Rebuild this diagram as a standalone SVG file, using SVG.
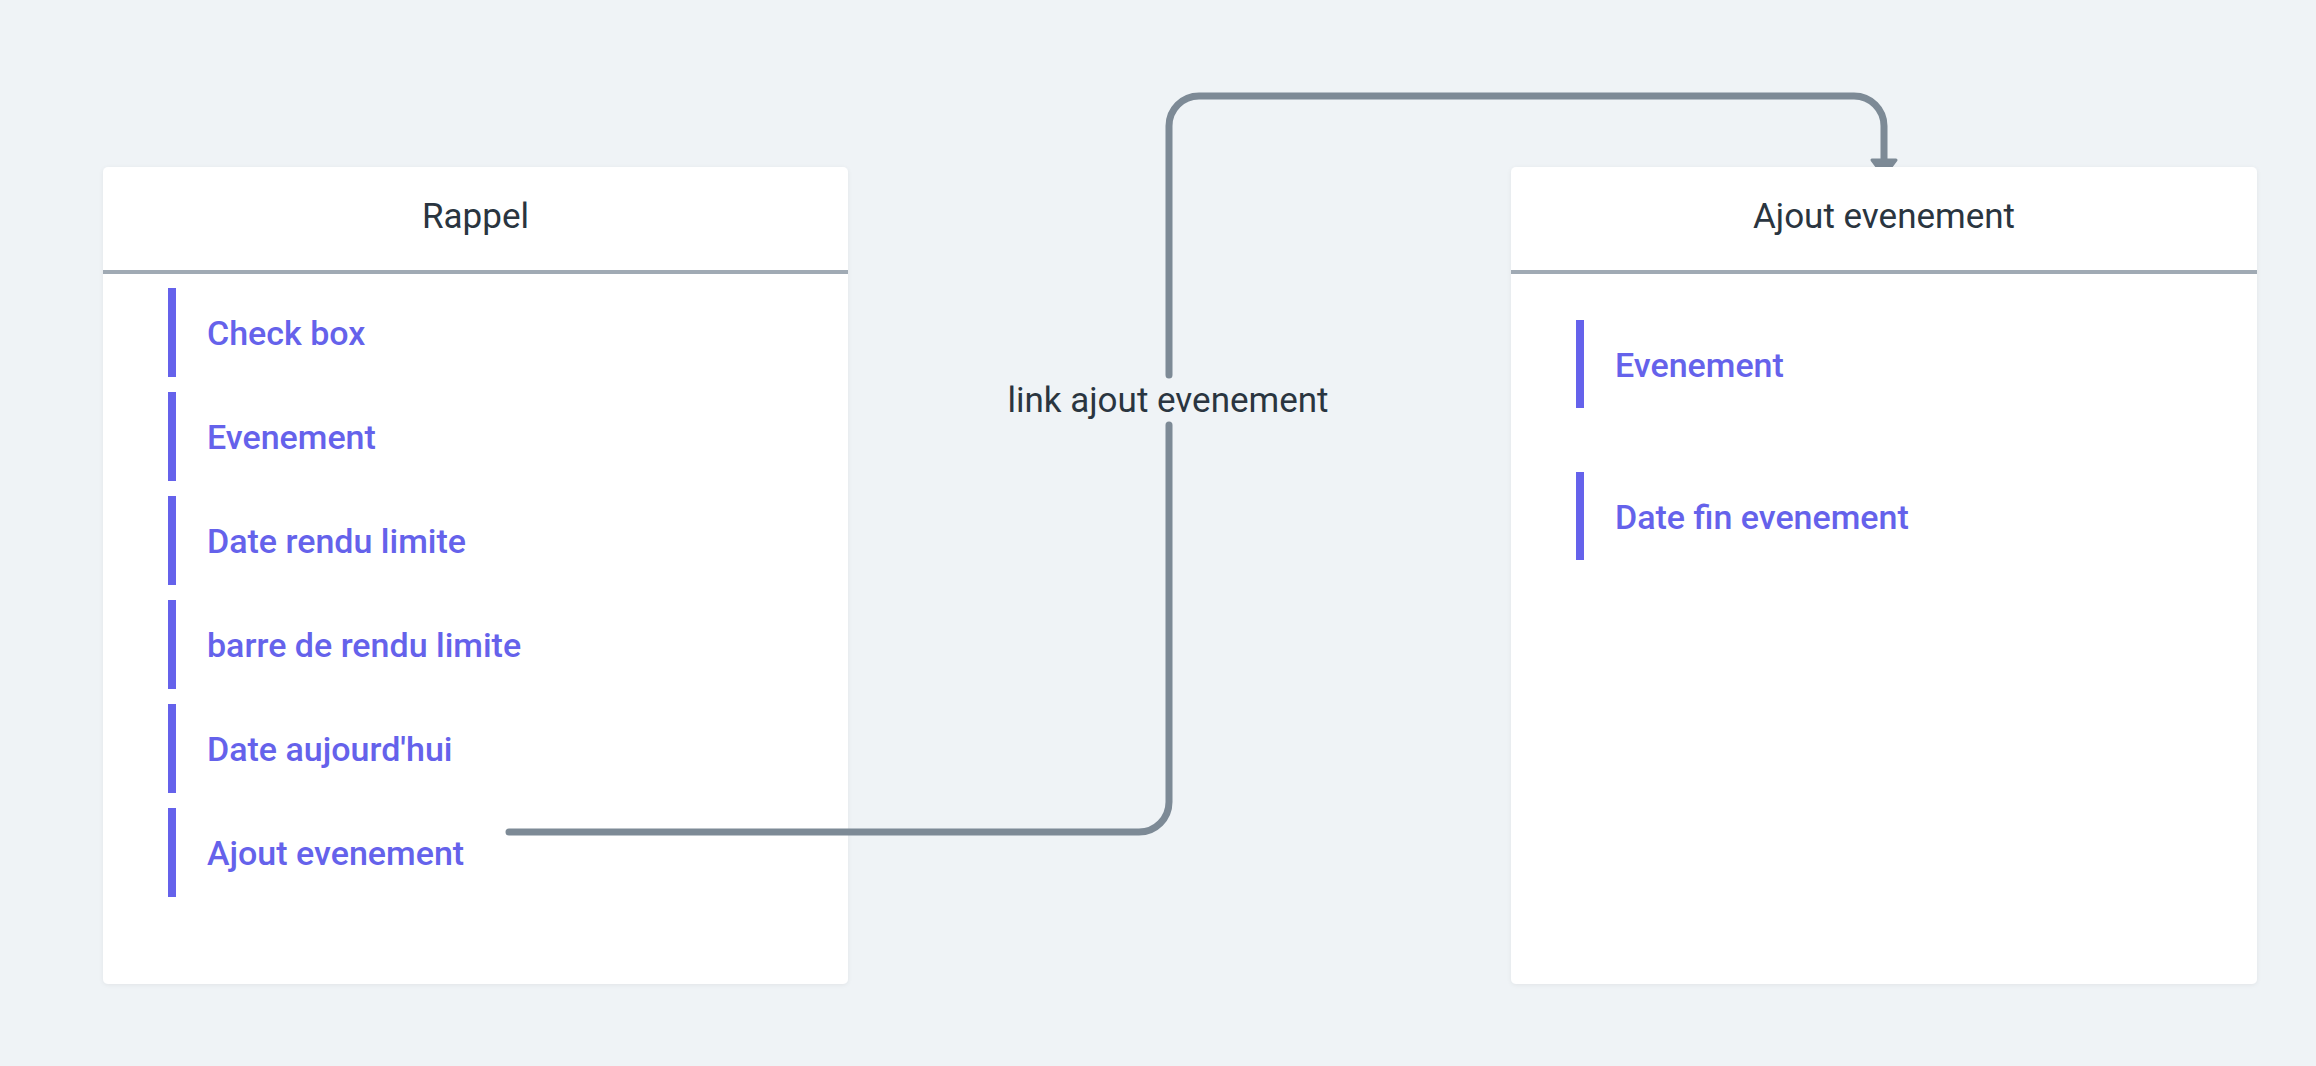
<svg xmlns="http://www.w3.org/2000/svg" width="2316" height="1066" viewBox="0 0 2316 1066">
<style>
.card{fill:#FFFFFF;filter:url(#sh);}
.div{stroke:#A0AAB4;stroke-width:4;}
.bar{fill:#6562EB;}
.title{font-family:Roboto,"Liberation Sans",sans-serif;font-size:35px;fill:#2A3540;text-anchor:middle;}
.item{font-family:Roboto,"Liberation Sans",sans-serif;font-size:34px;font-weight:500;fill:#6562EB;}
.lbl{font-family:Roboto,"Liberation Sans",sans-serif;font-size:35px;fill:#2A3540;text-anchor:middle;}
.conn{fill:none;stroke:#7D8A96;stroke-width:7;stroke-linecap:round;stroke-linejoin:round;}
</style>
<defs>
<filter id="sh" x="-5%" y="-5%" width="110%" height="110%">
<feDropShadow dx="0" dy="1" stdDeviation="2" flood-color="#000" flood-opacity="0.06"/>
</filter>
</defs>
<rect width="2316" height="1066" fill="#EFF3F6"/>
<g id="connectors">
<path class="conn" d="M1169 375 V126 A30 30 0 0 1 1199 96 H1854 A30 30 0 0 1 1884 126 V160"/>
<path d="M1872 160 H1896 L1884 176 Z" fill="#7D8A96" stroke="#7D8A96" stroke-width="3" stroke-linejoin="round"/>
</g>
<g id="node-rappel">
<rect class="card" x="103" y="167" width="745" height="817" rx="5"/>
<text class="title" x="475.5" y="228">Rappel</text>
<line class="div" x1="103" y1="272" x2="848" y2="272"/>
<rect class="bar" x="168" y="288" width="8" height="89"/>
<text class="item" x="207" y="345">Check box</text>
<rect class="bar" x="168" y="392" width="8" height="89"/>
<text class="item" x="207" y="449">Evenement</text>
<rect class="bar" x="168" y="496" width="8" height="89"/>
<text class="item" x="207" y="553">Date rendu limite</text>
<rect class="bar" x="168" y="600" width="8" height="89"/>
<text class="item" x="207" y="657">barre de rendu limite</text>
<rect class="bar" x="168" y="704" width="8" height="89"/>
<text class="item" x="207" y="761">Date aujourd'hui</text>
<rect class="bar" x="168" y="808" width="8" height="89"/>
<text class="item" x="207" y="865">Ajout evenement</text>
</g>
<g id="node-ajout-evenement">
<rect class="card" x="1511" y="167" width="746" height="817" rx="5"/>
<text class="title" x="1884" y="228">Ajout evenement</text>
<line class="div" x1="1511" y1="272" x2="2257" y2="272"/>
<rect class="bar" x="1576" y="320" width="8" height="88"/>
<text class="item" x="1615" y="377">Evenement</text>
<rect class="bar" x="1576" y="472" width="8" height="88"/>
<text class="item" x="1615" y="529">Date fin evenement</text>
</g>
<g id="connector-front">
<path class="conn" d="M509 832 H1139 A30 30 0 0 0 1169 802 V425"/>
<text class="lbl" x="1168" y="412">link ajout evenement</text>
</g>
</svg>
